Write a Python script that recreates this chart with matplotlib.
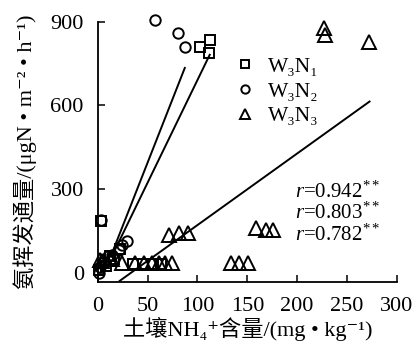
import numpy as np
import matplotlib
matplotlib.use('Agg')
import matplotlib.pyplot as plt

plt.rcParams['font.family'] = ['Liberation Serif', 'DejaVu Serif', 'Noto Sans CJK SC']
plt.rcParams['mathtext.fontset'] = 'custom'
plt.rcParams['mathtext.rm'] = 'Liberation Serif'
plt.rcParams['mathtext.it'] = 'Liberation Serif:italic'

# data
n1_x = [1, 3, 8, 12, 16, 22, 35, 45, 55, 63, 103, 112, 113]
n1_y = [10, 185, 25, 60, 50, 85, 30, 30, 30, 30, 809, 788, 835]

n2_x = [1, 2, 3, 6, 10, 14, 21, 24, 29, 57, 80, 87]
n2_y = [0, 20, 190, 40, 60, 65, 83, 98, 113, 907, 861, 811]

n3_x = [2, 4, 12, 14, 24, 37, 46, 54, 61, 67, 74, 71, 81, 91,
        134, 142, 151, 159, 169, 176, 227, 228, 272]
n3_y = [45, 41, 48, 48, 36, 36, 36, 36, 36, 36, 36, 137, 143, 143,
        36, 36, 36, 161, 155, 155, 877, 853, 829]

# fitted lines: slope, intercept, x range
fit_slope = [7.36, 9.1, 2.566]
fit_icpt = [-45, -60, -85.6]
fit_x0 = [14, 13, 22]
fit_x1 = [112.3, 87.3, 272.6]

labels = ['W₃N₁', 'W₃N₂', 'W₃N₃']
r_vals = ['0.942', '0.803', '0.782']

fig = plt.figure(figsize=(4.16, 3.45), dpi=100)
ax = fig.add_axes([0.235, 0.1835, 0.719, 0.7535])

mk = dict(linestyle='none', mfc='none', mec='black', mew=1.4, clip_on=False)
ax.plot(n1_x, n1_y, marker='s', markersize=7.5, label=labels[0], **mk)
ax.plot(n2_x, n2_y, marker='o', markersize=7.5, label=labels[1], **mk)
ax.plot(n3_x, n3_y, marker='^', markersize=9.5, label=labels[2], **mk)

for s, b, x0, x1 in zip(fit_slope, fit_icpt, fit_x0, fit_x1):
    xs = np.array([x0, x1])
    ax.plot(xs, s * xs + b, color='black', lw=1.4)

ax.set_xlim(0, 300)
ax.set_ylim(-32, 900)
ax.set_xticks([0, 50, 100, 150, 200, 250, 300])
ax.set_yticks([0, 300, 600, 900])
ax.spines['top'].set_visible(False)
ax.spines['right'].set_visible(False)
ax.spines['left'].set_linewidth(1.3)
ax.spines['bottom'].set_linewidth(1.3)
ax.tick_params(direction='in', length=5, width=1.1, labelsize=16)
ax.tick_params(axis='x', pad=11)
ax.tick_params(axis='y', pad=10)

ax.set_xlabel('土壤NH₄⁺含量/(mg • kg⁻¹)', fontsize=16, labelpad=1)
ax.set_ylabel('氨挥发通量/(μgN • m⁻² • h⁻¹)', fontsize=16, labelpad=10)

leg = ax.legend(loc='upper left', bbox_to_anchor=(0.39, 0.94), frameon=False,
                fontsize=15.5, handletextpad=0.6, labelspacing=0.22,
                handlelength=1.0, markerscale=0.8)

for i, r in enumerate(r_vals):
    ax.text(0.945, 0.345 - i * 0.083, '$r$=' + r + '$^{**}$', transform=ax.transAxes,
            ha='right', va='center', fontsize=15)

fig.savefig('out.png', dpi=100)
